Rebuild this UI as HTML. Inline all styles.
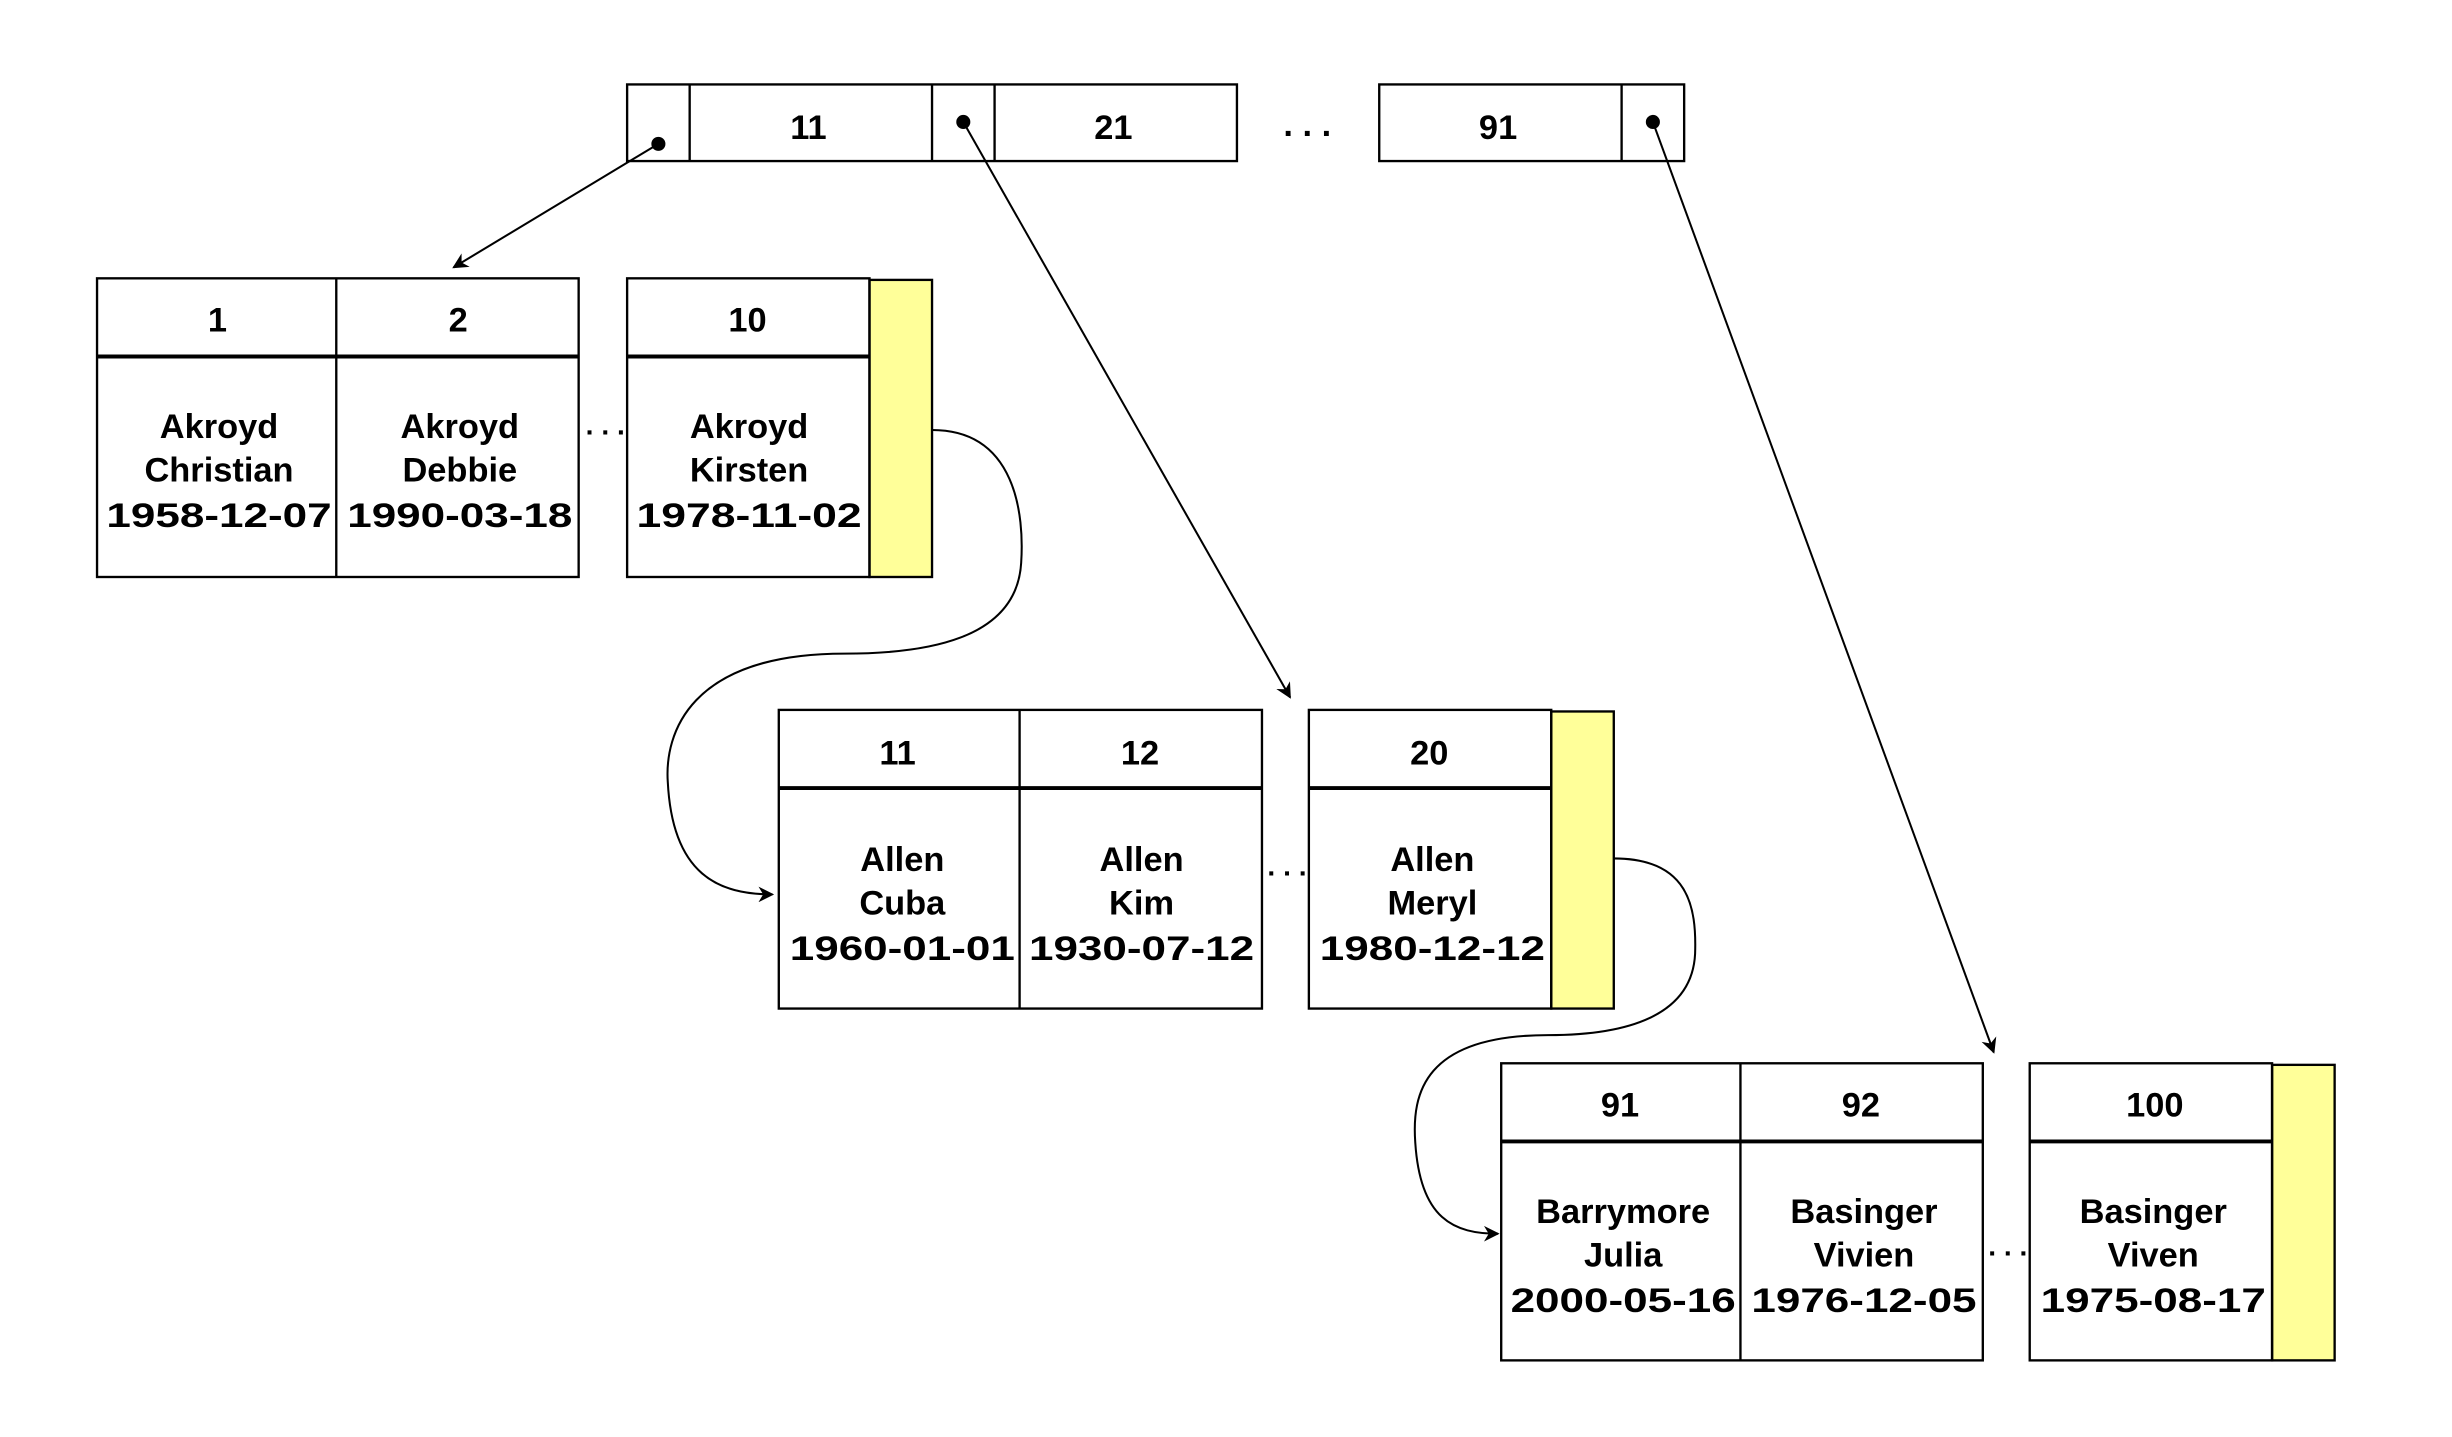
<!DOCTYPE html>
<html><head><meta charset="utf-8"><style>html,body{margin:0;padding:0;background:#fff}svg{display:block}</style></head>
<body>
<svg width="2452" height="1437" viewBox="0 0 1568 919" xmlns="http://www.w3.org/2000/svg" font-family="'Liberation Sans', sans-serif" font-size="22" text-anchor="middle">
<defs><marker id="a" markerWidth="10" markerHeight="10" refX="9" refY="5" orient="auto" markerUnits="userSpaceOnUse"><path d="M0,0 L10,5 L0,10 L3,5 z" fill="#000"/></marker></defs>
<g fill="none" stroke="#000" stroke-width="1.5">
<rect x="401" y="54" width="390" height="49"/>
<line x1="441" y1="54" x2="441" y2="103"/><line x1="596" y1="54" x2="596" y2="103"/><line x1="636" y1="54" x2="636" y2="103"/>
<rect x="882" y="54" width="195" height="49"/><line x1="1037" y1="54" x2="1037" y2="103"/>
<rect x="62" y="178" width="308" height="191"/><line x1="215" y1="178" x2="215" y2="369"/><line x1="62" y1="228" x2="370" y2="228" stroke-width="2.5"/>
<rect x="556" y="179" width="40" height="190" fill="#ffff99"/>
<rect x="401" y="178" width="155" height="191"/><line x1="401" y1="228" x2="556" y2="228" stroke-width="2.5"/>
<rect x="498" y="454" width="309" height="191"/><line x1="652" y1="454" x2="652" y2="645"/><line x1="498" y1="504" x2="807" y2="504" stroke-width="2.5"/>
<rect x="992" y="455" width="40" height="190" fill="#ffff99"/>
<rect x="837" y="454" width="155" height="191"/><line x1="837" y1="504" x2="992" y2="504" stroke-width="2.5"/>
<rect x="960" y="680" width="308" height="190"/><line x1="1113" y1="680" x2="1113" y2="870"/><line x1="960" y1="730" x2="1268" y2="730" stroke-width="2.5"/>
<rect x="1453" y="681" width="40" height="189" fill="#ffff99"/>
<rect x="1298" y="680" width="155" height="190"/><line x1="1298" y1="730" x2="1453" y2="730" stroke-width="2.5"/>
</g>
<g fill="none" stroke="#000" stroke-width="1.3">
<path d="M421,92 L290,171" marker-end="url(#a)"/>
<path d="M616,78 L825,446" marker-end="url(#a)"/>
<path d="M1057,78 L1275,673" marker-end="url(#a)"/>
<path d="M596,275 C650,275 655,330 653,360 C650,410 590,418 540,418 C440,418 425,470 427,500 C430,560 460,572 494,572" marker-end="url(#a)"/>
<path d="M1032,549 C1080,549 1085,580 1084,610 C1082,650 1040,662 990,662 C910,662 903,700 905,730 C908,780 930,789 958,789" marker-end="url(#a)"/>
</g>
<g fill="#000"><circle cx="421" cy="92" r="4.5"/><circle cx="616" cy="78" r="4.5"/><circle cx="1057" cy="78" r="4.5"/></g>
<g font-weight="bold">
<text x="517" y="89">11</text><text x="712" y="89">21</text><text x="958" y="89">91</text>
<text x="836" y="87">. . .</text>
<text x="139" y="212">1</text><text x="293" y="212">2</text><text x="478" y="212">10</text>
<text x="574" y="489">11</text><text x="729" y="489">12</text><text x="914" y="489">20</text>
<text x="1036" y="714">91</text><text x="1190" y="714">92</text><text x="1378" y="714">100</text>
</g>
<g font-weight="bold">
<text x="140" y="280">Akroyd</text><text x="140" y="308">Christian</text><text x="140" y="337" textLength="144" lengthAdjust="spacingAndGlyphs">1958-12-07</text>
<text x="294" y="280">Akroyd</text><text x="294" y="308">Debbie</text><text x="294" y="337" textLength="144" lengthAdjust="spacingAndGlyphs">1990-03-18</text>
<text x="479" y="280">Akroyd</text><text x="479" y="308">Kirsten</text><text x="479" y="337" textLength="144" lengthAdjust="spacingAndGlyphs">1978-11-02</text>
<text x="577" y="557">Allen</text><text x="577" y="585">Cuba</text><text x="577" y="614" textLength="144" lengthAdjust="spacingAndGlyphs">1960-01-01</text>
<text x="730" y="557">Allen</text><text x="730" y="585">Kim</text><text x="730" y="614" textLength="144" lengthAdjust="spacingAndGlyphs">1930-07-12</text>
<text x="916" y="557">Allen</text><text x="916" y="585">Meryl</text><text x="916" y="614" textLength="144" lengthAdjust="spacingAndGlyphs">1980-12-12</text>
<text x="1038" y="782">Barrymore</text><text x="1038" y="810">Julia</text><text x="1038" y="839" textLength="144" lengthAdjust="spacingAndGlyphs">2000-05-16</text>
<text x="1192" y="782">Basinger</text><text x="1192" y="810">Vivien</text><text x="1192" y="839" textLength="144" lengthAdjust="spacingAndGlyphs">1976-12-05</text>
<text x="1377" y="782">Basinger</text><text x="1377" y="810">Viven</text><text x="1377" y="839" textLength="144" lengthAdjust="spacingAndGlyphs">1975-08-17</text>
</g>
<g font-size="18" font-weight="bold"><text x="387" y="278">. . .</text><text x="823" y="560">. . .</text><text x="1284" y="803">. . .</text></g>
</svg>
</body></html>
